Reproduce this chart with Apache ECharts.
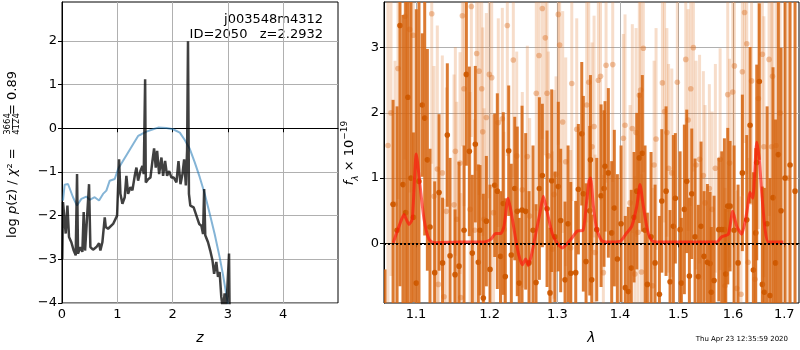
<!DOCTYPE html>
<html lang="en">
  <head>
    <meta charset="UTF-8" />
    <title>redshift fit</title>
    <style>
      html,
      body {
        margin: 0;
        padding: 0;
        background: #fff;
      }
      #main {
        width: 800px;
        height: 350px;
      }
    </style>
  </head>
  <body>
    <div id="main"></div>
    <script src="https://cdn.jsdelivr.net/npm/echarts@6/dist/echarts.min.js"></script>
    <script>
      // ---- left panel: log p(z) ----
      const zBlue = [0.018, 0.048, 0.109, 0.139, 0.199, 0.271, 0.35, 0.44, 0.501, 0.591, 0.67, 0.742, 0.802, 0.863, 0.953, 1.014, 1.104, 1.195, 1.285, 1.376, 1.436, 1.526, 1.647, 1.738, 1.888, 2.009, 2.13, 2.22, 2.31, 2.4, 2.49, 2.58, 2.67, 2.76, 2.85, 2.91, 2.97, 3.01];
      const lnpBlue = [-1.655, -1.291, -1.276, -1.314, -1.579, -1.769, -1.617, -1.564, -1.64, -1.579, -1.655, -1.503, -1.427, -1.2, -1.162, -0.934, -0.744, -0.554, -0.364, -0.175, -0.137, -0.076, -0.023, 0.015, 0.008, -0.023, -0.1, -0.27, -0.47, -0.78, -1.12, -1.5, -1.95, -2.42, -2.95, -3.35, -3.8, -4.1];

      const zBlack = [0.005, 0.018, 0.067, 0.098, 0.127, 0.169, 0.212, 0.248, 0.272, 0.29, 0.332, 0.368, 0.392, 0.417, 0.441, 0.489, 0.513, 0.561, 0.622, 0.67, 0.694, 0.73, 0.773, 0.791, 0.833, 0.924, 0.996, 1.032, 1.056, 1.092, 1.134, 1.164, 1.195, 1.237, 1.273, 1.315, 1.346, 1.376, 1.418, 1.454, 1.478, 1.503, 1.515, 1.557, 1.599, 1.635, 1.665, 1.695, 1.72, 1.756, 1.798, 1.828, 1.864, 1.9, 1.937, 1.979, 2.021, 2.069, 2.106, 2.142, 2.178, 2.208, 2.239, 2.262, 2.278, 2.295, 2.32, 2.38, 2.43, 2.48, 2.52, 2.55, 2.57, 2.59, 2.64, 2.68, 2.72, 2.75, 2.79, 2.82, 2.85, 2.88, 2.91, 2.94, 2.97, 3.02, 3.03];
      const lnpBlack = [-3.0, -1.69, -2.41, -1.77, -2.49, -2.61, -2.8, -2.91, -1.05, -2.87, -2.72, -2.83, -1.92, -2.8, -2.76, -1.28, -2.72, -2.78, -2.72, -2.63, -2.8, -2.61, -2.04, -2.26, -2.3, -2.19, -2.0, -0.71, -1.5, -1.73, -1.58, -1.09, -1.5, -1.35, -1.42, -1.09, -0.9, -1.2, -0.98, -0.86, -1.05, 1.12, -1.24, -1.17, -1.13, -0.75, -0.46, -0.9, -0.52, -1.05, -0.67, -1.09, -0.75, -1.09, -0.98, -1.13, -1.13, -1.24, -0.75, -1.28, -1.05, -0.71, -1.31, -0.5, 1.99, -1.5, -1.77, -1.81, -2.0, -2.19, -2.23, -2.42, -1.39, -2.45, -2.61, -2.8, -3.02, -3.33, -3.06, -3.4, -3.29, -3.86, -4.16, -3.78, -4.16, -2.87, -4.2];

      const zTicks = [0, 1, 2, 3, 4];
      const lnpTicks = [-4, -3, -2, -1, 0, 1, 2];

      // ---- right panel: spectrum ----
      const darkLam = [1.0605, 1.0706, 1.0757, 1.0794, 1.0832, 1.0867, 1.0896, 1.0935, 1.0967, 1.1004, 1.1039, 1.1082, 1.1114, 1.1149, 1.1184, 1.1246, 1.1304, 1.1351, 1.1415, 1.1452, 1.152, 1.1574, 1.1643, 1.1675, 1.1716, 1.1757, 1.1799, 1.1841, 1.1865, 1.1911, 1.1954, 1.2006, 1.2073, 1.211, 1.2156, 1.2196, 1.2225, 1.2274, 1.2312, 1.2362, 1.2399, 1.2428, 1.2469, 1.2523, 1.2572, 1.2632, 1.2677, 1.2727, 1.2772, 1.2843, 1.2888, 1.2914, 1.2964, 1.3015, 1.3052, 1.3119, 1.3166, 1.3208, 1.3286, 1.3327, 1.3381, 1.3406, 1.3449, 1.3508, 1.3519, 1.354, 1.362, 1.369, 1.3738, 1.3754, 1.3808, 1.3863, 1.3906, 1.3956, 1.4017, 1.4088, 1.4138, 1.4188, 1.4234, 1.428, 1.4323, 1.4374, 1.442, 1.446, 1.4523, 1.4592, 1.4667, 1.4709, 1.4783, 1.4853, 1.4911, 1.4946, 1.503, 1.5053, 1.5106, 1.5149, 1.5196, 1.5239, 1.5298, 1.5358, 1.5407, 1.5462, 1.5523, 1.5572, 1.5596, 1.5646, 1.5734, 1.5789, 1.5838, 1.5864, 1.5901, 1.5945, 1.602, 1.6096, 1.6178, 1.6262, 1.6326, 1.639, 1.6436, 1.6455, 1.6506, 1.6565, 1.6604, 1.6658, 1.6716, 1.6775, 1.6825, 1.6881, 1.6935, 1.7015, 1.7116, 1.7217];
      const darkFlux = [-2.0, 0.6, 0.2, 3.34, 0.9, 0.47, 2.24, 1.0, 0.4, -0.61, 0.95, 2.12, 1.92, 1.28, 0.25, -0.45, 0.78, -0.3, 1.66, -0.19, -0.48, -0.35, 0.2, 2.59, 1.41, -0.15, 1.52, -0.29, 0.2, -0.84, 0.34, -0.4, 0.89, 0.8, -0.2, 0.61, -0.51, 1.42, -0.18, 0.84, 0.49, -0.61, 0.51, 0.49, -0.3, 0.2, -0.6, 0.84, 1.04, 0.53, -0.76, 0.96, 0.1, 0.87, 0.35, -0.56, 0.3, -0.46, -0.45, 0.83, 1.68, 0.76, -0.28, 0.5, 1.28, -0.56, 0.21, 0.73, 0.84, 1.18, 1.08, 0.16, 0.54, -0.24, 0.3, -0.68, -0.74, -0.38, 0.4, 0.8, 1.31, 1.38, 0.2, -0.63, 0.1, -0.3, -0.78, 0.65, 0.8, -0.59, 0.26, 0.69, 0.21, -0.61, 0.52, 0.95, -0.5, 0.76, 0.1, -0.51, 0.26, -0.2, -0.29, -0.31, -0.75, -0.57, 0.21, 0.21, 0.21, -0.47, 0.57, 0.57, 0.2, -0.3, 1.08, 0.36, 1.81, -0.41, 0.16, 1.24, 2.48, -0.63, -0.75, 0.3, -0.8, 0.7, -0.3, 1.36, 0.5, 1.0, 1.2, 0.8];
      const darkErr = [1.6, 1.6, 1.9, 4.0, 2.6, 3.5, 3.2, 3.0, 1.3, 4.2, 3.0, 1.1, 1.8, 1.7, 1.2, 1.4, 1.2, 1.0, 1.1, 1.5, 1.0, 1.6, 1.3, 1.4, 1.3, 1.2, 1.2, 1.5, 1.0, 1.6, 1.0, 1.3, 1.1, 1.5, 1.0, 1.4, 1.2, 1.0, 1.4, 1.1, 1.3, 1.0, 1.6, 1.2, 1.1, 1.3, 1.2, 1.4, 1.1, 1.2, 1.0, 1.4, 1.0, 1.3, 1.1, 1.2, 1.2, 1.4, 1.1, 1.0, 1.1, 1.5, 1.2, 1.3, 1.3, 1.0, 1.1, 1.4, 1.2, 1.0, 1.3, 1.1, 1.2, 1.3, 1.2, 1.1, 1.3, 1.2, 1.0, 1.2, 1.0, 1.2, 1.3, 1.1, 1.3, 1.2, 1.2, 1.1, 1.3, 1.1, 1.4, 1.0, 1.2, 1.0, 1.3, 1.1, 1.2, 1.0, 1.2, 1.1, 1.3, 1.0, 1.2, 1.1, 1.0, 1.3, 1.1, 1.2, 1.4, 1.0, 1.2, 1.0, 1.3, 1.2, 1.2, 1.3, 1.2, 1.5, 1.3, 1.5, 1.2, 1.5, 1.6, 1.8, 1.8, 2.0, 2.2, 3.2, 2.5, 4.0, 4.5, 4.5];

      const lightLam = [1.0642, 1.068, 1.0731, 1.0769, 1.0858, 1.0918, 1.0965, 1.1207, 1.1237, 1.1281, 1.1295, 1.1348, 1.1371, 1.1402, 1.1506, 1.1524, 1.1543, 1.1588, 1.1598, 1.162, 1.1643, 1.1744, 1.1726, 1.179, 1.1818, 1.1851, 1.1889, 1.1903, 1.1921, 1.1954, 1.1996, 1.203, 1.2056, 1.2124, 1.2182, 1.2206, 1.2254, 1.2341, 1.2391, 1.2473, 1.2547, 1.2582, 1.2681, 1.2722, 1.2772, 1.2817, 1.2843, 1.2863, 1.2923, 1.2949, 1.298, 1.3015, 1.3036, 1.3083, 1.313, 1.3208, 1.3224, 1.3302, 1.346, 1.3492, 1.3545, 1.3577, 1.3593, 1.3646, 1.3681, 1.3727, 1.3771, 1.388, 1.4055, 1.4083, 1.4167, 1.4205, 1.4248, 1.4268, 1.4323, 1.4301, 1.4346, 1.436, 1.4391, 1.4548, 1.4575, 1.4609, 1.4719, 1.4757, 1.4797, 1.4827, 1.4883, 1.4981, 1.5131, 1.5174, 1.5221, 1.5268, 1.5316, 1.538, 1.5449, 1.548, 1.5559, 1.5609, 1.567, 1.5758, 1.5851, 1.5901, 1.5935, 1.5995, 1.6026, 1.6071, 1.6178, 1.622, 1.6152, 1.6262, 1.6288, 1.6355, 1.6422, 1.6487, 1.6565, 1.6595, 1.6697, 1.6745, 1.6765, 1.6834, 1.6915, 1.7076];
      const lightFlux = [1.5, 2.0, 0.6, 2.68, 3.48, 3.28, 3.19, 3.52, 0.72, 1.14, -0.63, 1.08, -0.82, 0.49, 0.59, 1.41, 0.37, 1.23, -0.83, 3.49, 2.37, 3.63, 0.52, 0.2, 2.91, 2.64, 2.37, 1.71, 0.37, 1.93, 2.59, 2.54, 0.47, 1.85, 1.91, 0.21, 3.34, 2.81, 1.34, 0.82, 1.33, 0.42, 2.3, 2.88, 3.6, 3.15, 2.3, 1.34, -0.09, 0.75, 1.06, 3.51, 3.04, 1.86, 1.25, -0.07, 2.45, 1.75, 2.12, 2.47, 1.48, 1.79, -0.14, 2.5, 2.56, -0.45, 2.73, 2.74, 1.61, 1.81, 0.62, 1.76, -0.47, 1.7, 2.27, 0.17, 2.35, -0.44, 2.99, -0.65, 1.2, 1.6, 2.46, 2.02, 1.7, 1.15, 1.08, 2.47, 2.82, 1.89, 2.37, 3.0, 1.2, 1.29, 1.04, 0.62, 0.84, 0.52, 1.15, 1.29, -0.65, 2.28, 1.23, 2.32, 2.72, -0.69, 2.63, 3.54, -0.78, 3.06, -0.29, 2.49, -0.55, 2.22, 2.9, 1.48, 2.82, 1.48, 2.56, 1.5, 2.0, 1.0];
      const lightErr = [3.0, 2.5, 2.2, 2.0, 2.2, 2.5, 2.4, 2.3, 2.0, 2.2, 1.8, 1.8, 1.5, 1.9, 2.0, 1.6, 1.8, 1.7, 1.6, 2.0, 1.8, 2.0, 1.8, 1.7, 1.8, 1.9, 1.7, 1.6, 1.7, 1.6, 1.9, 1.7, 1.5, 1.6, 1.7, 1.5, 2.0, 1.8, 1.6, 1.5, 1.7, 1.5, 1.8, 1.9, 2.0, 1.8, 1.7, 1.6, 1.5, 1.6, 1.5, 2.0, 1.8, 1.7, 1.6, 1.5, 1.8, 1.7, 1.8, 1.8, 1.6, 1.7, 1.5, 1.8, 1.9, 1.5, 1.8, 1.8, 1.6, 1.7, 1.5, 1.6, 1.5, 1.6, 1.8, 1.5, 1.7, 1.5, 1.9, 1.5, 1.6, 1.7, 1.8, 1.7, 1.6, 1.6, 1.6, 1.8, 1.9, 1.7, 1.8, 1.9, 1.6, 1.6, 1.6, 1.5, 1.6, 1.5, 1.6, 1.7, 1.5, 1.8, 1.6, 1.8, 1.9, 1.5, 1.9, 2.0, 1.5, 2.0, 1.6, 1.9, 1.6, 2.0, 2.2, 2.0, 2.4, 2.5, 2.6, 3.0, 3.2, 3.5];

      const modelLam = [1.0709, 1.0781, 1.0845, 1.0909, 1.0952, 1.1004, 1.1052, 1.1105, 1.1171, 1.1237, 1.1588, 1.1921, 1.2016, 1.2087, 1.2159, 1.2206, 1.2264, 1.2312, 1.2376, 1.2424, 1.2473, 1.2523, 1.2562, 1.2607, 1.2673, 1.2737, 1.2787, 1.2847, 1.2923, 1.3, 1.3077, 1.3146, 1.3233, 1.3311, 1.3401, 1.3454, 1.3497, 1.3521, 1.3566, 1.362, 1.3701, 1.3782, 1.4, 1.4111, 1.4195, 1.428, 1.4335, 1.4391, 1.446, 1.4535, 1.4621, 1.5696, 1.5789, 1.5912, 1.5995, 1.6071, 1.6166, 1.6262, 1.6326, 1.6378, 1.6455, 1.6506, 1.6553, 1.6618, 1.6684, 1.6981];
      const modelFlux = [0.01, 0.26, 0.44, 0.29, 0.37, 1.37, 0.9, 0.37, 0.06, 0.01, 0.02, 0.02, 0.06, 0.15, 0.15, 0.26, 0.69, 0.47, 0.06, -0.19, -0.33, -0.24, -0.34, -0.19, 0.15, 0.47, 0.72, 0.47, 0.15, 0.0, -0.07, -0.01, 0.09, 0.19, 0.2, 0.6, 0.96, 1.0, 0.57, 0.21, 0.04, 0.02, 0.03, 0.16, 0.26, 0.57, 0.9, 0.57, 0.21, 0.04, 0.02, 0.02, 0.1, 0.14, 0.49, 0.26, 0.14, 0.47, 0.78, 0.69, 1.55, 1.28, 0.77, 0.21, 0.02, 0.02];

      const lamTicks = [1.1, 1.2, 1.3, 1.4, 1.5, 1.6, 1.7];
      const fluxTicks = [0, 1, 2, 3];

      const FONT = "DejaVu Sans";
      const zip = (a, b, c) => a.map((v, i) => (c ? [v, b[i], c[i]] : [v, b[i]]));
      const minus = (v) => String(v).replace("-", "\u2212");

      // error bar + dot, drawn through the axes
      function errBar(barColor, dotColor) {
        return function (params, api) {
          const x = api.value(0);
          const y = api.value(1);
          const e = api.value(2);
          const hi = api.coord([x, y + e]);
          const lo = api.coord([x, y - e]);
          const mid = api.coord([x, y]);
          return {
            type: "group",
            children: [
              {
                type: "line",
                shape: { x1: hi[0], y1: hi[1], x2: lo[0], y2: lo[1] },
                style: { stroke: barColor, lineWidth: 3 },
              },
              {
                type: "circle",
                shape: { cx: mid[0], cy: mid[1], r: 2.8 },
                style: { fill: dotColor },
              },
            ],
          };
        };
      }

      const tickStyle = { length: 4, lineStyle: { color: "#000", width: 1 } };
      const labelStyle = { color: "#000", fontSize: 13, fontFamily: FONT, margin: 5 };
      const gridLine = { show: true, lineStyle: { color: "#b0b0b0", width: 1 } };

      const option = {
        animation: false,
        grid: [
          { left: 62, top: 2, width: 276, height: 302, show: true, borderColor: "#000", borderWidth: 1 },
          { left: 384, top: 2, width: 415, height: 302, show: true, borderColor: "#000", borderWidth: 1 },
        ],
        xAxis: [
          {
            type: "value",
            gridIndex: 0,
            min: 0,
            max: 4.99,
            axisLine: { show: true, lineStyle: { color: "#000" } },
            axisTick: Object.assign({ customValues: zTicks }, tickStyle),
            axisLabel: Object.assign({ customValues: zTicks }, labelStyle),
            splitLine: gridLine,
            name: "z",
            nameLocation: "middle",
            nameGap: 28,
            nameTextStyle: { fontSize: 14, fontStyle: "italic", fontFamily: FONT, color: "#000" },
          },
          {
            type: "log",
            logBase: 10,
            gridIndex: 1,
            min: 1.0592,
            max: 1.7298,
            axisLine: { show: true, lineStyle: { color: "#000" } },
            axisTick: Object.assign({ customValues: lamTicks }, tickStyle),
            axisLabel: Object.assign({ customValues: lamTicks, formatter: (v) => (+v).toFixed(1) }, labelStyle),
            splitLine: gridLine,
            minorTick: { show: false },
            minorSplitLine: { show: false },
            name: "λ",
            nameLocation: "middle",
            nameGap: 28,
            nameTextStyle: { fontSize: 14, fontStyle: "italic", fontFamily: FONT, color: "#000" },
          },
        ],
        yAxis: [
          {
            type: "value",
            gridIndex: 0,
            min: -4,
            max: 2.89,
            axisLine: { show: true, lineStyle: { color: "#000" } },
            axisTick: Object.assign({ customValues: lnpTicks }, tickStyle),
            axisLabel: Object.assign({ customValues: lnpTicks, formatter: minus }, labelStyle),
            splitLine: gridLine,
          },
          {
            type: "value",
            gridIndex: 1,
            min: -0.915,
            max: 3.7,
            axisLine: { show: true, lineStyle: { color: "#000" } },
            axisTick: Object.assign({ customValues: fluxTicks }, tickStyle),
            axisLabel: Object.assign({ customValues: fluxTicks, formatter: minus }, labelStyle),
            splitLine: gridLine,
          },
        ],
        series: [
          {
            type: "line",
            xAxisIndex: 0,
            yAxisIndex: 0,
            data: zip(zBlue, lnpBlue),
            showSymbol: false,
            lineStyle: { color: "rgba(31,119,180,0.55)", width: 2 },
            clip: true,
          },
          {
            type: "line",
            xAxisIndex: 0,
            yAxisIndex: 0,
            data: zip(zBlack, lnpBlack),
            showSymbol: false,
            lineStyle: { color: "rgba(0,0,0,0.75)", width: 2.5 },
            clip: true,
          },
          {
            type: "custom",
            xAxisIndex: 1,
            yAxisIndex: 1,
            clip: true,
            data: zip(lightLam, lightFlux, lightErr),
            encode: { x: 0, y: 1 },
            renderItem: errBar("rgba(225,125,50,0.26)", "rgba(220,115,40,0.42)"),
          },
          {
            type: "custom",
            xAxisIndex: 1,
            yAxisIndex: 1,
            clip: true,
            data: zip(darkLam, darkFlux, darkErr),
            encode: { x: 0, y: 1 },
            renderItem: errBar("rgba(214,100,14,0.85)", "rgba(205,88,0,0.95)"),
          },
          {
            type: "line",
            xAxisIndex: 1,
            yAxisIndex: 1,
            data: zip(modelLam, modelFlux),
            showSymbol: false,
            smooth: 0.2,
            lineStyle: { color: "rgba(255,20,10,0.65)", width: 3 },
            markLine: {
              silent: true,
              symbol: "none",
              label: { show: false },
              lineStyle: { color: "#000", type: "dotted", width: 2 },
              data: [{ yAxis: 0 }],
            },
          },
        ],
        graphic: [
          {
            type: "text",
            x: 323,
            y: 20,
            style: { text: "j003548m4312", font: `13px "${FONT}"`, fill: "#000", align: "right", verticalAlign: "middle" },
          },
          {
            type: "text",
            x: 323,
            y: 35,
            style: { text: "ID=2050   z=2.2932", font: `13px "${FONT}"`, fill: "#000", align: "right", verticalAlign: "middle" },
          },
          {
            type: "text",
            x: 788,
            y: 339,
            style: { text: "Thu Apr 23 12:35:59 2020", font: `7px "${FONT}"`, fill: "#000", align: "right", verticalAlign: "middle" },
          },
          {
            type: "text",
            x: 350,
            y: 153,
            rotation: Math.PI / 2,
            style: {
              text: "{f|f}{sub|λ}{n| × 10}{sup|−19}",
              align: "center",
              verticalAlign: "middle",
              fill: "#000",
              rich: {
                f: { fontFamily: FONT, fontSize: 13, fontStyle: "italic", lineHeight: 20, verticalAlign: "middle" },
                sub: { fontFamily: FONT, fontSize: 9, fontStyle: "italic", lineHeight: 20, verticalAlign: "bottom" },
                n: { fontFamily: FONT, fontSize: 13, lineHeight: 20, verticalAlign: "middle" },
                sup: { fontFamily: FONT, fontSize: 9, lineHeight: 20, verticalAlign: "top" },
              },
            },
          },
          {
            type: "group",
            x: 12.5,
            y: 238,
            rotation: Math.PI / 2,
            children: [
              {
                type: "text",
                x: 0,
                y: 0,
                style: {
                  text: "{n|log }{i|p}{n|(z) / }{i|χ}{n|² =}",
                  align: "left",
                  verticalAlign: "middle",
                  fill: "#000",
                  rich: {
                    n: { fontFamily: FONT, fontSize: 13 },
                    i: { fontFamily: FONT, fontSize: 13, fontStyle: "italic" },
                  },
                },
              },
              {
                type: "text",
                x: 114,
                y: -4.5,
                style: { text: "3664", font: `8.5px "${FONT}"`, fill: "#000", align: "center", verticalAlign: "middle" },
              },
              {
                type: "line",
                shape: { x1: 108, y1: 0, x2: 120, y2: 0 },
                style: { stroke: "#000", lineWidth: 0.8 },
              },
              {
                type: "text",
                x: 114,
                y: 4.5,
                style: { text: "4124", font: `8.5px "${FONT}"`, fill: "#000", align: "center", verticalAlign: "middle" },
              },
              {
                type: "text",
                x: 123,
                y: 0,
                style: { text: "= 0.89", font: `13px "${FONT}"`, fill: "#000", align: "left", verticalAlign: "middle" },
              },
            ],
          },
        ],
      };

      const myChart = echarts.init(document.getElementById("main"));
      myChart.setOption(option);
    </script>
  </body>
</html>
